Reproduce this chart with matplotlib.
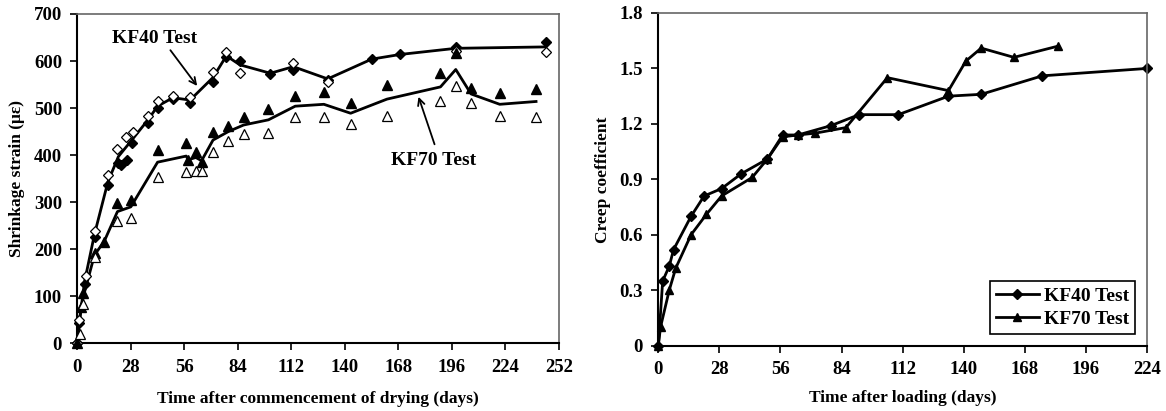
import matplotlib
matplotlib.use("Agg")
import matplotlib.pyplot as plt

# ---- shrinkage (left) ----
kf40_f_days = [0, 1, 4, 9, 16, 21.5, 23, 26, 28.5, 37, 42, 50, 59, 71, 78, 85, 101, 113, 131, 154, 169, 198, 245]
kf40_f_vals = [0, 43, 126, 226, 337, 383, 379, 390, 425, 468, 500, 519, 510, 555, 608, 599, 572, 580, 560, 604, 614, 630, 640]
kf40_o_days = [0, 1, 4.5, 9, 16, 21, 25.5, 29, 37, 42, 50, 59, 71, 78, 85, 113, 131, 198, 245]
kf40_o_vals = [0, 50, 144, 238, 357, 413, 438, 450, 483, 514, 526, 523, 577, 619, 574, 595, 555, 622, 619]
kf40_line_days = [0, 1, 4, 9, 16, 21.5, 28.5, 37, 42, 50, 59, 71, 78, 85, 101, 113, 131, 154, 169, 198, 245]
kf40_line_vals = [0, 46, 135, 232, 343, 397, 432, 475, 504, 522, 517, 565, 611, 592, 574, 588, 562, 604, 614, 627, 630]

kf70_f_days = [0, 2, 3, 9, 14, 21, 28, 42, 57, 58, 62, 65, 71, 79, 87, 100, 114, 129, 143, 162, 190, 198, 206, 221, 240]
kf70_f_vals = [0, 78, 106, 191, 216, 298, 305, 411, 425, 390, 407, 386, 450, 462, 482, 497, 526, 535, 510, 549, 574, 616, 542, 533, 540]
kf70_o_days = [1.5, 3, 9, 21, 28, 42, 57, 62, 65, 71, 79, 87, 100, 114, 129, 143, 162, 190, 198, 206, 221, 240]
kf70_o_vals = [20, 84, 184, 261, 266, 354, 365, 367, 367, 407, 430, 445, 448, 480, 480, 466, 484, 515, 547, 511, 483, 480]
kf70_line_days = [0, 1, 3, 9, 14, 21, 28, 42, 57, 58, 62, 65, 71, 79, 87, 100, 114, 129, 143, 162, 190, 198, 206, 221, 240]
kf70_line_vals = [0, 45, 97, 188, 216, 280, 290, 385, 398, 390, 395, 388, 432, 450, 464, 475, 504, 508, 489, 519, 545, 582, 530, 508, 514]

# ---- creep (right) ----
creep40_days = [0, 2, 5, 7, 15, 21, 29, 38, 50, 57, 64, 79, 92, 110, 133, 148, 176, 224]
creep40_vals = [0, 0.35, 0.43, 0.52, 0.70, 0.81, 0.85, 0.93, 1.01, 1.14, 1.14, 1.19, 1.25, 1.25, 1.35, 1.36, 1.46, 1.50]
creep70_days = [0, 1, 5, 8, 15, 22, 29, 43, 50, 57, 64, 72, 86, 105, 133, 141, 148, 163, 183]
creep70_vals = [0, 0.10, 0.30, 0.42, 0.60, 0.71, 0.81, 0.91, 1.01, 1.13, 1.14, 1.15, 1.18, 1.45, 1.38, 1.54, 1.61, 1.56, 1.62]

plt.rcParams["font.family"] = ["Liberation Serif", "DejaVu Serif"]
plt.rcParams["font.weight"] = "bold"

fig = plt.figure(figsize=(11.66, 4.11), dpi=100)
ax1 = fig.add_axes([0.0663, 0.1647, 0.4131, 0.8013])
ax2 = fig.add_axes([0.5646, 0.1589, 0.4191, 0.8095])


def style_axes(ax):
    for s in ("left", "bottom"):
        ax.spines[s].set_color("black")
        ax.spines[s].set_linewidth(1.5)
    for s in ("top", "right"):
        ax.spines[s].set_color("#666666")
        ax.spines[s].set_linewidth(1.2)
    ax.tick_params(direction="out", length=5, width=1.2, labelsize=13.5, pad=6)
    for lab in ax.get_xticklabels() + ax.get_yticklabels():
        lab.set_fontweight("bold")


# left chart
ax1.plot(kf40_line_days, kf40_line_vals, color="black", lw=2, zorder=2)
ax1.plot(kf70_line_days, kf70_line_vals, color="black", lw=2, zorder=2)
ax1.plot(kf40_f_days, kf40_f_vals, "D", color="black", ms=5.5, ls="none", zorder=3, clip_on=False)
ax1.plot(kf40_o_days, kf40_o_vals, "D", mfc="white", mec="black", mew=0.9, ms=5.5, ls="none",
         zorder=3, clip_on=False)
ax1.plot(kf70_f_days, kf70_f_vals, "^", color="black", ms=7, ls="none", zorder=3, clip_on=False)
ax1.plot(kf70_o_days, kf70_o_vals, "^", mfc="white", mec="black", mew=0.9, ms=7, ls="none",
         zorder=3, clip_on=False)
ax1.set_xlim(0, 252)
ax1.set_ylim(0, 700)
ax1.set_xticks(range(0, 253, 28))
ax1.set_yticks(range(0, 701, 100))
ax1.set_xlabel("Time after commencement of drying (days)", fontsize=12.5, fontweight="bold", labelpad=11)
ax1.set_ylabel("Shrinkage strain (με)", fontsize=12.5, fontweight="bold", labelpad=6)

# callouts
ax1.text(40.3, 648, "KF40 Test", fontsize=14, fontweight="bold", ha="center", va="center")
ax1.annotate("", xy=(62.7, 547), xytext=(48.7, 623),
             arrowprops=dict(arrowstyle="->", color="black", lw=1.3, shrinkA=0, shrinkB=0,
                             mutation_scale=12))
ax1.text(186.2, 389, "KF70 Test", fontsize=14, fontweight="bold", ha="center", va="center")
ax1.annotate("", xy=(178.5, 524), xytext=(186.9, 423),
             arrowprops=dict(arrowstyle="->", color="black", lw=1.3, shrinkA=0, shrinkB=0,
                             mutation_scale=12))
style_axes(ax1)

# right chart
ax2.plot(creep40_days, creep40_vals, "-D", color="black", lw=2, ms=5, label="KF40 Test", clip_on=False)
ax2.plot(creep70_days, creep70_vals, "-^", color="black", lw=2, ms=6, label="KF70 Test", clip_on=False)
ax2.set_xlim(0, 224)
ax2.set_ylim(0, 1.8)
ax2.set_xticks(range(0, 225, 28))
ax2.set_yticks([0, 0.3, 0.6, 0.9, 1.2, 1.5, 1.8])
ax2.set_yticklabels(["0", "0.3", "0.6", "0.9", "1.2", "1.5", "1.8"])
ax2.set_xlabel("Time after loading (days)", fontsize=12.5, fontweight="bold", labelpad=9)
ax2.set_ylabel("Creep coefficient", fontsize=12.5, fontweight="bold", labelpad=6)
leg = ax2.legend(loc="lower right", fancybox=False, edgecolor="black", framealpha=1,
                 prop={"size": 14, "weight": "bold"}, handlelength=2.2,
                 borderaxespad=0.6, borderpad=0.3, labelspacing=0.3, handletextpad=0.3)
leg.get_frame().set_linewidth(1.2)
style_axes(ax2)

fig.savefig("out.png", dpi=100)
